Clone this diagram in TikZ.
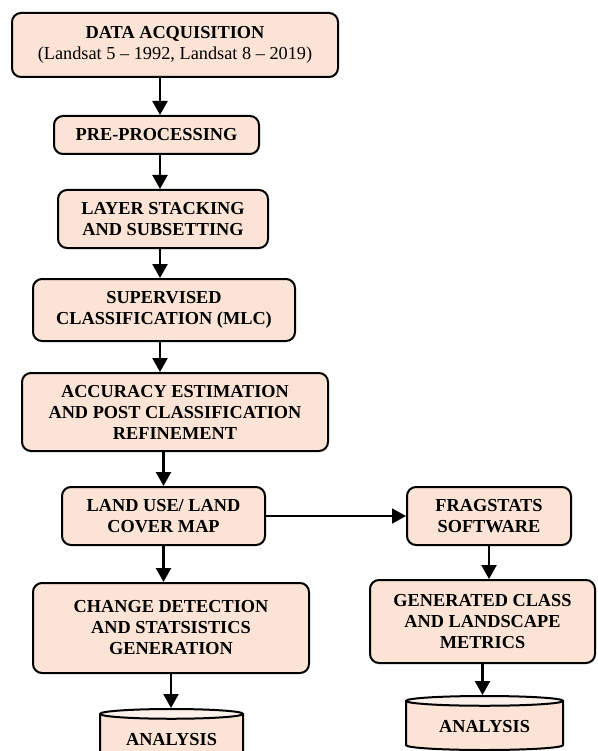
\documentclass[tikz,border=0pt]{standalone}
\usepackage{fontspec}
\setmainfont{Liberation Serif}
\usetikzlibrary{arrows.meta,shapes.geometric}

\definecolor{peach}{HTML}{FBE4D5}
\definecolor{peachtop}{HTML}{FDF1EA}

\begin{document}
\begin{tikzpicture}[
    x=1pt, y=-1pt,
    % rounded box for each step
    stepbox/.style={rectangle, draw=black, line width=2pt, fill=peach, rounded corners=9pt,
      align=center, inner sep=2pt, font=\bfseries\fontsize{18.3}{21}\selectfont},
    % cylinder for the results
    store/.style={cylinder, shape border rotate=90, aspect=0.1, draw=black, line width=2pt,
      cylinder uses custom fill, cylinder body fill=peach, cylinder end fill=peachtop,
      anchor=north, font=\bfseries\fontsize{18.3}{21}\selectfont},
    arrow/.style={-{Triangle[length=14pt,width=15pt]}, line width=2.4pt}
  ]
  \useasboundingbox (0,0) rectangle (597,751);
  \clip (0,0) rectangle (597,751);
  % axis of the left column
  \coordinate (axis) at (160,0);

  %Nodes
  \node[stepbox, minimum width=326pt, minimum height=64pt] (acq)   at (175,45)    {DATA ACQUISITION\\\mdseries(Landsat 5 – 1992, Landsat 8 – 2019)};
  \node[stepbox, minimum width=205pt, minimum height=38pt] (pre)   at (156.5,135) {PRE-PROCESSING};
  \node[stepbox, minimum width=210pt, minimum height=58pt] (stack) at (163,219)   {LAYER STACKING\\AND SUBSETTING};
  \node[stepbox, minimum width=262pt, minimum height=62pt] (mlc)   at (164,310)   {SUPERVISED\\CLASSIFICATION (MLC)};
  \node[stepbox, minimum width=306pt, minimum height=78pt] (acc)   at (175,412)   {ACCURACY ESTIMATION\\AND POST CLASSIFICATION\\REFINEMENT};
  \node[stepbox, minimum width=203pt, minimum height=58pt] (lulc)  at (163.5,516) {LAND USE/ LAND\\COVER MAP};
  \node[stepbox, minimum width=164pt, minimum height=58pt] (frag)  at (489,516)   {FRAGSTATS\\SOFTWARE};
  \node[stepbox, minimum width=276pt, minimum height=90pt] (chg)   at (171,628)   {CHANGE DETECTION\\AND STATSISTICS\\GENERATION};
  \node[stepbox, minimum width=225pt, minimum height=83pt] (gen)   at (482.5,621.5) {GENERATED CLASS\\AND LANDSCAPE\\METRICS};
  % results
  \node[store, minimum width=143pt, minimum height=54pt] (anaL) at (171.5,708) {ANALYSIS};
  \node[store, minimum width=157pt, minimum height=54pt] (anaR) at (484.5,695) {ANALYSIS};

  %Lines
  \draw[arrow] (acq.south -| axis)   -- (pre.north -| axis);
  \draw[arrow] (pre.south -| axis)   -- (stack.north -| axis);
  \draw[arrow] (stack.south -| axis) -- (mlc.north -| axis);
  \draw[arrow] (mlc.south -| axis)   -- (acc.north -| axis);
  \draw[arrow] (acc.south -| lulc)   -- (lulc.north);
  \draw[arrow] (lulc.south)          -- (lulc.south |- chg.north);
  \draw[arrow] (chg.south)           -- (chg.south |- anaL.north);
  \draw[arrow, line width=1.8pt] (lulc.east) -- (frag.west);
  \draw[arrow] (frag.south)          -- (frag.south |- gen.north);
  \draw[arrow] (gen.south)           -- (gen.south |- anaR.north);
\end{tikzpicture}
\end{document}
